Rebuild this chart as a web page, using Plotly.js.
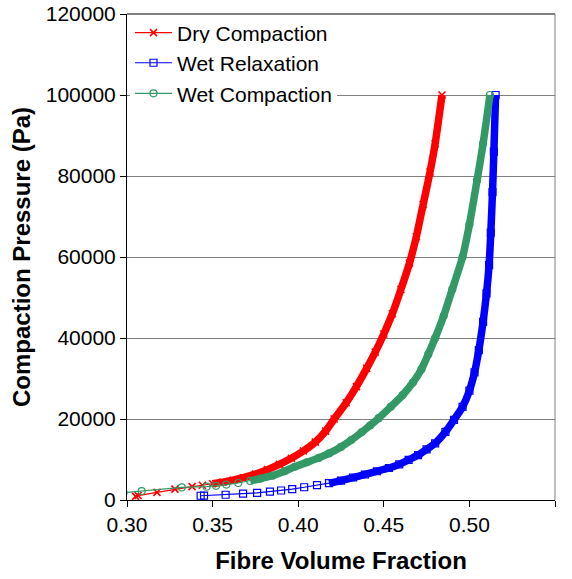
<!DOCTYPE html>
<html>
<head>
<meta charset="utf-8">
<script src="https://cdn.plot.ly/plotly-3.0.1.min.js"></script>
<style>html,body{margin:0;padding:0;background:#fff;}#chart{width:572px;height:579px;}</style>
</head>
<body>
<div id="chart"></div>
<script>
// Dry Compaction
const dryX = [0.305, 0.3065, 0.3175, 0.328, 0.338, 0.344, 0.350, 0.356, 0.362, 0.368, 0.375, 0.382, 0.389, 0.396, 0.403, 0.410, 0.416, 0.421, 0.428, 0.434, 0.440, 0.445, 0.450, 0.455, 0.460, 0.465, 0.469, 0.473, 0.477, 0.480, 0.484];
const dryY = [900, 1100, 1900, 2700, 3300, 3650, 4000, 4400, 4900, 5500, 6400, 7500, 8800, 10300, 12100, 14300, 17000, 20000, 24000, 28000, 32500, 36500, 41000, 46000, 52000, 58500, 65000, 73000, 81000, 88000, 100000];
// Wet Relaxation
const relX = [0.343, 0.345, 0.3576, 0.3678, 0.376, 0.3835, 0.390, 0.3965, 0.4035, 0.411, 0.418, 0.425, 0.432, 0.439, 0.446, 0.453, 0.459, 0.4645, 0.470, 0.475, 0.480, 0.486, 0.491, 0.496, 0.500, 0.503, 0.5055, 0.508, 0.510, 0.5115, 0.5125, 0.5135, 0.5143, 0.5153];
const relY = [1050, 1080, 1300, 1550, 1750, 2050, 2350, 2700, 3150, 3650, 4150, 4800, 5550, 6300, 7100, 7900, 8800, 9900, 11100, 12500, 14000, 16800, 19800, 23000, 27000, 31500, 37000, 44000, 51000, 58000, 66000, 76000, 86000, 100000];
// Wet Compaction
const wetX = [0.298, 0.3086, 0.332, 0.3465, 0.352, 0.358, 0.365, 0.372, 0.378, 0.385, 0.392, 0.398, 0.405, 0.412, 0.418, 0.425, 0.431, 0.437, 0.442, 0.447, 0.454, 0.461, 0.467, 0.472, 0.476, 0.480, 0.485, 0.490, 0.496, 0.500, 0.5045, 0.508, 0.512];
const wetY = [1800, 2200, 3100, 3300, 3500, 3800, 4200, 4700, 5300, 6000, 7100, 8200, 9300, 10400, 11500, 13100, 14800, 16700, 18400, 20200, 23000, 25900, 29000, 32300, 36000, 40000, 45500, 52000, 60000, 68000, 79000, 88000, 100000];

const names = ['Dry Compaction', 'Wet Relaxation', 'Wet Compaction'];
const xTickVals = [0.30, 0.35, 0.40, 0.45, 0.50, 0.55];
const yTickVals = [0, 20000, 40000, 60000, 80000, 100000, 120000];

// x value from which markers merge into a solid band
const denseFrom = [0.350, 0.418, 0.372];

const RED = '#FF0000', BLUE = '#0000FF', GREEN = '#339966';

function band(xs, ys, from, color) {
  const bx = [], by = [];
  for (let i = 0; i < xs.length; i++) if (xs[i] >= from) { bx.push(xs[i]); by.push(ys[i]); }
  return {x: bx, y: by, type: 'scatter', mode: 'lines', showlegend: false, hoverinfo: 'skip',
          line: {color: color, width: 7.5, shape: 'spline', smoothing: 0.6}};
}

const traces = [
  band(dryX, dryY, denseFrom[0], RED),
  {x: dryX, y: dryY, name: names[0], legend: 'legend', type: 'scatter', mode: 'lines+markers',
   line: {color: RED, width: 1.2},
   marker: {symbol: 'x-thin', size: 7, color: RED, line: {color: RED, width: 1.6}}},
  band(relX, relY, denseFrom[1], BLUE),
  {x: relX, y: relY, name: names[1], legend: 'legend2', type: 'scatter', mode: 'lines+markers',
   line: {color: BLUE, width: 1.2},
   marker: {symbol: 'square-open', size: 7, color: BLUE, line: {color: BLUE, width: 1.2}}},
  band(wetX, wetY, denseFrom[2], GREEN),
  {x: wetX, y: wetY, name: names[2], legend: 'legend3', type: 'scatter', mode: 'lines+markers',
   line: {color: GREEN, width: 1.2},
   marker: {symbol: 'circle-open', size: 7, color: GREEN, line: {color: GREEN, width: 1.2}}}
];

const FONT = 'Liberation Sans, Arial, sans-serif';
const legFont = {family: FONT, size: 21, color: '#000'};
function leg(yc, bg) {
  return {x: 0.007, y: yc, xanchor: 'left', yanchor: 'middle', bgcolor: bg, borderwidth: 0,
          font: legFont, itemwidth: 37};
}

const layout = {
  width: 572, height: 579,
  margin: {l: 127, r: 17, t: 14, b: 79},
  paper_bgcolor: '#fff', plot_bgcolor: '#fff',
  font: {family: FONT, color: '#000', size: 21},
  showlegend: true,
  legend: leg(0.961, 'rgba(0,0,0,0)'),
  legend2: leg(0.899, '#fff'),
  legend3: leg(0.836, '#fff'),
  xaxis: {
    range: [0.30, 0.55], tickvals: xTickVals, tickformat: '.2f',
    ticks: 'outside', ticklen: 6, tickcolor: '#000', tickwidth: 1,
    showline: true, linecolor: '#000', linewidth: 1, showgrid: false, zeroline: false,
    tickfont: {family: FONT, size: 21, color: '#000'},
    title: {text: 'Fibre Volume Fraction', font: {family: FONT, size: 24, color: '#000', weight: 'bold'}, standoff: 16}
  },
  yaxis: {
    range: [0, 120000], tickvals: yTickVals, tickformat: 'd',
    ticks: 'outside', ticklen: 6, tickcolor: '#000', tickwidth: 1,
    showline: true, linecolor: '#000', linewidth: 1,
    showgrid: true, gridcolor: '#808080', gridwidth: 1, zeroline: false,
    tickfont: {family: FONT, size: 21, color: '#000'},
    title: {text: 'Compaction Pressure (Pa)', font: {family: FONT, size: 24, color: '#000', weight: 'bold'}, standoff: 8}
  },
  shapes: [
    {type: 'line', xref: 'paper', yref: 'paper', x0: 0, x1: 1, y0: 1, y1: 1, line: {color: '#000', width: 1}},
    {type: 'line', xref: 'paper', yref: 'paper', x0: 1, x1: 1, y0: 0, y1: 1, line: {color: '#808080', width: 1}}
  ]
};

Plotly.newPlot('chart', traces, layout, {displayModeBar: false, staticPlot: true});
</script>
</body>
</html>
